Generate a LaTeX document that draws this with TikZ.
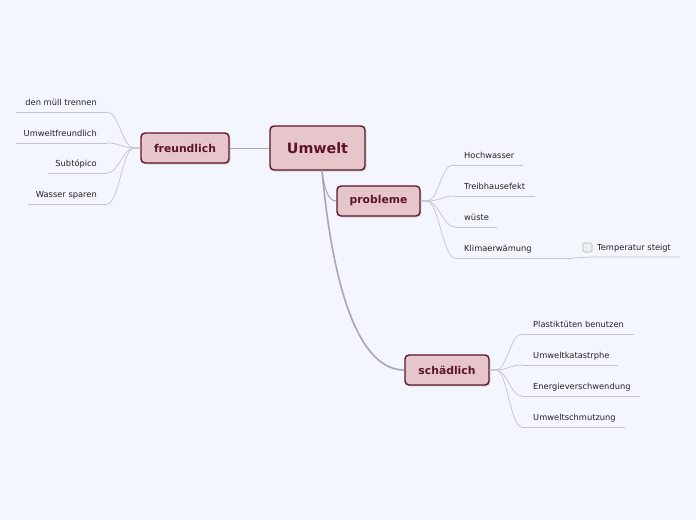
\documentclass[tikz,border=0pt]{standalone}
\usepackage{fontspec}
\setmainfont{DejaVu Sans}
\usetikzlibrary{shadows}
\definecolor{bgc}{HTML}{F3F6FE}
\definecolor{boxfill}{HTML}{E6C5CB}
\definecolor{boxline}{HTML}{5E1426}
\definecolor{maingray}{HTML}{A8A8A8}
\definecolor{leafgray}{HTML}{C4C4C4}
\definecolor{txt}{HTML}{222222}
\tikzset{
  topic/.style={draw=boxline, fill=boxfill, line width=1.4pt, rounded corners=4pt,
    text=boxline, font=\bfseries\fontsize{10.8}{12}\selectfont, inner sep=0pt,
    minimum height=30pt, drop shadow={opacity=0.25, shadow xshift=1.5pt, shadow yshift=-1.5pt}},
  roottopic/.style={topic, font=\bfseries\fontsize{14.3}{16}\selectfont, minimum height=44pt, minimum width=95pt},
  leaf/.style={text=txt, font=\fontsize{8.3}{10}\selectfont, inner sep=0pt},
  uline/.style={draw=leafgray, line width=0.7pt},
  branch/.style={draw=leafgray, line width=0.7pt},
  mainbranch/.style={draw=maingray, line width=1.6pt},
}
\begin{document}
\begin{tikzpicture}[x=1pt, y=-1pt]
\useasboundingbox (0,0) rectangle (696,520);
\fill[bgc] (0,0) rectangle (696,520);

% main topics
\node[roottopic] (root) at (317.5,148) {Umwelt};
\node[topic, minimum width=88pt] (fr) at (185,148) {freundlich};
\node[topic, minimum width=83pt] (pr) at (378.5,201) {probleme};
\node[topic, minimum width=84pt] (sc) at (447,370) {schädlich};

% main connectors
\draw[draw=maingray, line width=1pt] (root.west) -- (fr.east);
\draw[draw=maingray, line width=1pt] (root.south) ++(4.5,0) coordinate (rs) .. controls (325,192) and (329,201) .. (pr.west);
\draw[mainbranch] (rs) .. controls (334,300) and (362,370) .. (sc.west);

% left leaves
\coordinate (l1a) at (16,112);  \coordinate (l1b) at (107,112);
\coordinate (l2a) at (16,143);  \coordinate (l2b) at (107,143);
\coordinate (l3a) at (48,173);  \coordinate (l3b) at (107,173);
\coordinate (l4a) at (28,204);  \coordinate (l4b) at (107,204);
\node[leaf, anchor=base east] (l1) at (97,105.5) {den müll trennen};
\node[leaf, anchor=base east] (l2) at (97,136.5) {Umweltfreundlich};
\node[leaf, anchor=base east] (l3) at (97,166.5) {Subtópico};
\node[leaf, anchor=base east] (l4) at (97,197.5) {Wasser sparen};
\foreach \i in {1,2,3,4}{
  \draw[uline] (l\i a) -- (l\i b);
  \draw[branch] (fr.west) -- ++(-6,0) .. controls +(-12,0) and +(12,0) .. (l\i b);
}

% probleme leaves
\coordinate (p1a) at (453,165);  \coordinate (p1b) at (523,165);
\coordinate (p2a) at (455,196);  \coordinate (p2b) at (535,196);
\coordinate (p3a) at (455,227);  \coordinate (p3b) at (497,227);
\coordinate (p4a) at (455,258);  \coordinate (p4b) at (572,258);
\node[leaf, anchor=base west] (p1) at (464,158.5) {Hochwasser};
\node[leaf, anchor=base west] (p2) at (464,189.5) {Treibhausefekt};
\node[leaf, anchor=base west] (p3) at (464,220.5) {wüste};
\node[leaf, anchor=base west] (p4) at (464,251.5) {Klimaerwämung};
\foreach \i in {1,2,3,4}{
  \draw[uline] (p\i a) -- (p\i b);
  \draw[branch] (pr.east) -- ++(6,0) .. controls +(12,0) and +(-12,0) .. (p\i a);
}

% Temperatur steigt
\coordinate (t1a) at (592,257);  \coordinate (t1b) at (680,257);
\node[draw=leafgray!90!black, fill=gray!12, rounded corners=1.5pt, line width=0.6pt,
      minimum size=9pt, inner sep=0pt] (cb) at (587.5,247.5) {};
\node[leaf, anchor=base west] (t1) at (597,250.5) {Temperatur steigt};
\draw[uline] (p4b) .. controls +(10,0) and +(-10,0) .. (t1a) -- (t1b);

% schädlich leaves
\coordinate (s1a) at (522,334);  \coordinate (s1b) at (634,334);
\coordinate (s2a) at (522,365);  \coordinate (s2b) at (618,365);
\coordinate (s3a) at (522,396);  \coordinate (s3b) at (640,396);
\coordinate (s4a) at (522,427);  \coordinate (s4b) at (625,427);
\node[leaf, anchor=base west] (s1) at (533,327.5) {Plastiktüten benutzen};
\node[leaf, anchor=base west] (s2) at (533,358.5) {Umweltkatastrphe};
\node[leaf, anchor=base west] (s3) at (533,389.5) {Energieverschwendung};
\node[leaf, anchor=base west] (s4) at (533,420.5) {Umweltschmutzung};
\foreach \i in {1,2,3,4}{
  \draw[uline] (s\i a) -- (s\i b);
  \draw[branch] (sc.east) -- ++(6,0) .. controls +(12,0) and +(-12,0) .. (s\i a);
}
\end{tikzpicture}
\end{document}
